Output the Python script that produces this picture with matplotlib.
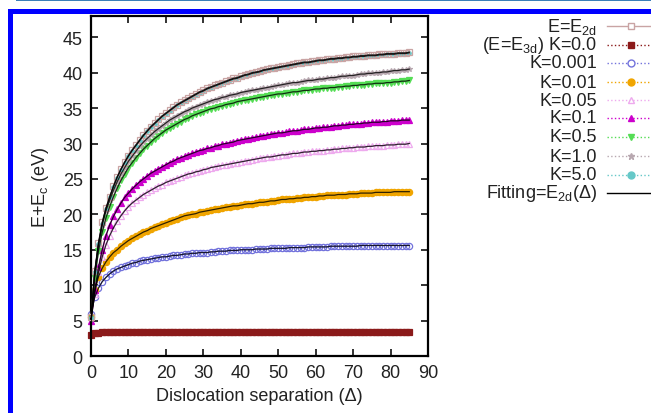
import numpy as np
import matplotlib
matplotlib.use("Agg")
import matplotlib.pyplot as plt
from matplotlib.lines import Line2D
from matplotlib.patches import Rectangle

plt.rcParams['font.family'] = ['Liberation Sans', 'DejaVu Sans']
plt.rcParams['mathtext.fontset'] = 'custom'
plt.rcParams['mathtext.rm'] = 'Liberation Sans'
plt.rcParams['mathtext.it'] = 'Liberation Sans:italic'

# dislocation separation (in units of Delta)
delta = np.arange(0, 86)

e_2d = [5.5, 12.0, 16.0, 18.9, 20.9, 22.5, 24.0, 25.3, 26.4, 27.4,
        28.3, 29.1, 29.8, 30.5, 31.2, 31.8, 32.4, 32.9, 33.4, 33.9,
        34.3, 34.7, 35.1, 35.5, 35.8, 36.1, 36.4, 36.7, 37.0, 37.3,
        37.5, 37.8, 38.0, 38.2, 38.4, 38.6, 38.8, 39.0, 39.2, 39.3,
        39.5, 39.7, 39.8, 40.0, 40.1, 40.2, 40.4, 40.5, 40.6, 40.7,
        40.8, 40.9, 41.0, 41.1, 41.2, 41.3, 41.4, 41.5, 41.5, 41.6,
        41.7, 41.8, 41.8, 41.9, 42.0, 42.0, 42.1, 42.1, 42.2, 42.2,
        42.3, 42.3, 42.4, 42.4, 42.5, 42.5, 42.5, 42.6, 42.6, 42.7,
        42.7, 42.7, 42.8, 42.8, 42.8, 42.9]

k_0 = [2.9, 3.2, 3.3, 3.4, 3.4, 3.4, 3.4, 3.4, 3.4, 3.4,
       3.4, 3.4, 3.4, 3.4, 3.4, 3.4, 3.4, 3.4, 3.4, 3.4,
       3.4, 3.4, 3.4, 3.4, 3.4, 3.4, 3.4, 3.4, 3.4, 3.4,
       3.4, 3.4, 3.4, 3.4, 3.4, 3.4, 3.4, 3.4, 3.4, 3.4,
       3.4, 3.4, 3.4, 3.4, 3.4, 3.4, 3.4, 3.4, 3.4, 3.4,
       3.4, 3.4, 3.4, 3.4, 3.4, 3.4, 3.4, 3.4, 3.4, 3.4,
       3.4, 3.4, 3.4, 3.4, 3.4, 3.4, 3.4, 3.4, 3.4, 3.4,
       3.4, 3.4, 3.4, 3.4, 3.4, 3.4, 3.4, 3.4, 3.4, 3.4,
       3.4, 3.4, 3.4, 3.4, 3.4, 3.4]

k_0001 = [6.0, 8.3, 9.6, 10.5, 11.1, 11.6, 12.0, 12.3, 12.5, 12.7,
          12.9, 13.1, 13.2, 13.4, 13.5, 13.6, 13.7, 13.8, 13.9, 14.0,
          14.0, 14.1, 14.2, 14.2, 14.3, 14.4, 14.4, 14.5, 14.5, 14.6,
          14.6, 14.6, 14.7, 14.7, 14.8, 14.8, 14.8, 14.9, 14.9, 14.9,
          15.0, 15.0, 15.0, 15.0, 15.1, 15.1, 15.1, 15.1, 15.2, 15.2,
          15.2, 15.2, 15.2, 15.3, 15.3, 15.3, 15.3, 15.3, 15.4, 15.4,
          15.4, 15.4, 15.4, 15.4, 15.5, 15.5, 15.5, 15.5, 15.5, 15.5,
          15.5, 15.5, 15.6, 15.6, 15.6, 15.6, 15.6, 15.6, 15.6, 15.6,
          15.6, 15.6, 15.6, 15.6, 15.6, 15.6]

k_001 = [5.5, 9.3, 11.2, 12.4, 13.3, 14.0, 14.6, 15.0, 15.5, 15.9,
         16.3, 16.6, 16.9, 17.2, 17.5, 17.7, 18.0, 18.2, 18.4, 18.6,
         18.8, 19.0, 19.2, 19.4, 19.6, 19.8, 19.9, 20.0, 20.1, 20.3,
         20.4, 20.5, 20.6, 20.7, 20.8, 20.9, 21.0, 21.1, 21.2, 21.2,
         21.3, 21.4, 21.5, 21.5, 21.6, 21.7, 21.7, 21.8, 21.9, 21.9,
         22.0, 22.1, 22.1, 22.2, 22.2, 22.3, 22.3, 22.4, 22.4, 22.5,
         22.5, 22.6, 22.6, 22.7, 22.7, 22.7, 22.8, 22.8, 22.8, 22.9,
         22.9, 22.9, 23.0, 23.0, 23.0, 23.0, 23.1, 23.1, 23.1, 23.1,
         23.1, 23.2, 23.2, 23.2, 23.2, 23.2]

k_005 = [5.0, 8.8, 11.8, 14.0, 15.7, 17.0, 18.1, 19.0, 19.8, 20.5,
         21.1, 21.6, 22.0, 22.4, 22.8, 23.1, 23.4, 23.7, 24.0, 24.2,
         24.5, 24.7, 24.9, 25.1, 25.3, 25.5, 25.7, 25.8, 26.0, 26.1,
         26.3, 26.4, 26.6, 26.7, 26.8, 26.9, 27.0, 27.1, 27.2, 27.3,
         27.4, 27.5, 27.6, 27.7, 27.8, 27.9, 28.0, 28.1, 28.1, 28.2,
         28.3, 28.4, 28.4, 28.5, 28.6, 28.6, 28.7, 28.8, 28.8, 28.9,
         28.9, 29.0, 29.0, 29.1, 29.1, 29.2, 29.2, 29.3, 29.3, 29.4,
         29.4, 29.5, 29.5, 29.5, 29.6, 29.6, 29.7, 29.7, 29.7, 29.8,
         29.8, 29.8, 29.9, 29.9, 29.9, 30.0]

k_01 = [5.0, 9.3, 12.5, 15.0, 17.0, 18.5, 19.7, 20.7, 21.6, 22.4,
        23.0, 23.6, 24.1, 24.6, 25.0, 25.4, 25.8, 26.1, 26.4, 26.7,
        27.0, 27.3, 27.5, 27.8, 28.0, 28.2, 28.4, 28.6, 28.8, 29.0,
        29.1, 29.3, 29.4, 29.6, 29.7, 29.9, 30.0, 30.1, 30.2, 30.4,
        30.5, 30.6, 30.7, 30.8, 30.9, 31.0, 31.1, 31.2, 31.3, 31.4,
        31.5, 31.5, 31.6, 31.7, 31.8, 31.8, 31.9, 32.0, 32.0, 32.1,
        32.2, 32.2, 32.3, 32.3, 32.4, 32.5, 32.5, 32.6, 32.6, 32.7,
        32.7, 32.8, 32.8, 32.9, 32.9, 33.0, 33.0, 33.0, 33.1, 33.1,
        33.2, 33.2, 33.2, 33.3, 33.3, 33.3]

k_05 = [5.2, 11.0, 14.8, 17.5, 19.5, 21.1, 22.5, 23.7, 24.8, 25.7,
        26.6, 27.3, 28.0, 28.6, 29.2, 29.7, 30.2, 30.7, 31.1, 31.5,
        31.9, 32.2, 32.5, 32.8, 33.1, 33.4, 33.6, 33.9, 34.1, 34.3,
        34.5, 34.7, 34.9, 35.0, 35.2, 35.3, 35.5, 35.6, 35.7, 35.9,
        36.0, 36.1, 36.2, 36.3, 36.4, 36.5, 36.6, 36.7, 36.8, 36.9,
        37.0, 37.0, 37.1, 37.2, 37.3, 37.3, 37.4, 37.5, 37.5, 37.6,
        37.7, 37.7, 37.8, 37.8, 37.9, 37.9, 38.0, 38.0, 38.1, 38.1,
        38.2, 38.2, 38.3, 38.3, 38.4, 38.4, 38.5, 38.5, 38.5, 38.6,
        38.6, 38.7, 38.7, 38.8, 38.8, 38.9]

k_1 = [5.3, 11.8, 15.7, 18.5, 20.5, 22.0, 23.4, 24.6, 25.7, 26.6,
       27.5, 28.2, 28.9, 29.6, 30.2, 30.7, 31.2, 31.7, 32.1, 32.5,
       32.9, 33.3, 33.6, 33.9, 34.2, 34.5, 34.7, 35.0, 35.2, 35.4,
       35.6, 35.8, 36.0, 36.2, 36.3, 36.5, 36.6, 36.8, 36.9, 37.0,
       37.2, 37.3, 37.4, 37.5, 37.6, 37.7, 37.8, 37.9, 38.0, 38.1,
       38.2, 38.3, 38.4, 38.5, 38.6, 38.6, 38.7, 38.8, 38.9, 38.9,
       39.0, 39.1, 39.1, 39.2, 39.3, 39.3, 39.4, 39.5, 39.5, 39.6,
       39.6, 39.7, 39.8, 39.8, 39.9, 39.9, 40.0, 40.0, 40.1, 40.1,
       40.2, 40.3, 40.3, 40.4, 40.4, 40.5]

k_5 = [5.4, 11.8, 15.8, 18.7, 20.8, 22.4, 23.9, 25.2, 26.3, 27.3,
       28.2, 29.0, 29.7, 30.4, 31.1, 31.7, 32.3, 32.8, 33.3, 33.8,
       34.2, 34.6, 35.0, 35.4, 35.7, 36.0, 36.3, 36.6, 36.9, 37.2,
       37.4, 37.7, 37.9, 38.1, 38.3, 38.5, 38.7, 38.9, 39.1, 39.2,
       39.4, 39.6, 39.7, 39.9, 40.0, 40.1, 40.3, 40.4, 40.5, 40.6,
       40.7, 40.8, 40.9, 41.0, 41.1, 41.2, 41.3, 41.4, 41.4, 41.5,
       41.6, 41.7, 41.7, 41.8, 41.9, 41.9, 42.0, 42.0, 42.1, 42.1,
       42.2, 42.2, 42.3, 42.3, 42.4, 42.4, 42.4, 42.5, 42.5, 42.6,
       42.6, 42.6, 42.7, 42.7, 42.7, 42.8]

labels = [r"E=E$_{\mathregular{2d}}$",
          r"(E=E$_{\mathregular{3d}}$) K=0.0",
          "K=0.001", "K=0.01", "K=0.05", "K=0.1",
          "K=0.5", "K=1.0", "K=5.0"]
series = [e_2d, k_0, k_0001, k_001, k_005, k_01, k_05, k_1, k_5]

# (color, marker, filled, legend linestyle, marker size, z-order)
styles = [("#c9a4a4", "s", False, "-", 4.5, 3),
          ("#8b1a1a", "s", True, ":", 5.0, 2),
          ("#7373dc", "o", False, ":", 4.5, 2),
          ("#f0a500", "o", True, ":", 4.5, 2),
          ("#eeaaee", "^", False, ":", 4.5, 2),
          ("#cc00cc", "^", True, ":", 4.0, 2),
          ("#55dd55", "v", True, ":", 4.0, 2),
          ("#b8a8b0", "*", True, ":", 4.0, 2),
          ("#66c8c8", "o", True, ":", 2.5, 2.5)]

W, H = 651, 414
fig = plt.figure(figsize=(W / 100, H / 100), dpi=100)
ax = fig.add_axes([91 / W, 1 - 357 / H, (428 - 91) / W, (357 - 17) / H])

for vals, (c, m, filled, ls, ms, z) in zip(series, styles):
    ax.plot(delta, vals, color=c, lw=0.8, marker=m, ms=ms,
            mfc=c if filled else "none", mec=c, mew=0.9, clip_on=False,
            zorder=z)

# fitted curves drawn over the data
for vals in series:
    if vals is k_0:
        continue
    ax.plot(delta, vals, color="black", lw=0.9, alpha=0.8, zorder=4)

ax.set_xlim(0, 90)
ax.set_ylim(0, 48)
ax.set_xticks(range(0, 91, 10))
ax.set_yticks(range(0, 46, 5))
ax.tick_params(direction="in", length=5, width=1.3, top=True, right=True,
               labelsize=13, colors="#222222", pad=6)
for s in ax.spines.values():
    s.set_linewidth(1.6)
ax.set_xlabel("Dislocation separation (Δ)", fontsize=13, color="#222222",
              labelpad=4)
ax.set_ylabel(r"E+E$_{\mathregular{c}}$ (eV)", fontsize=13, color="#222222",
              labelpad=8)

# key on the right side, gnuplot style
rows = [27, 46, 64, 83, 101, 119, 138, 157, 176, 194]
key_labels = labels + [r"Fitting=E$_{\mathregular{2d}}$(Δ)"]
key_styles = styles + [("black", None, True, "-", 0, 0)]
for py, lab, (c, m, filled, ls, ms, z) in zip(rows, key_labels, key_styles):
    fy = 1 - py / H
    fig.text(597 / W, fy, lab, ha="right", va="center", fontsize=13,
             color="#222222")
    fig.add_artist(Line2D([607 / W, 1.0], [fy, fy], transform=fig.transFigure,
                          color=c, lw=1.0, ls=ls))
    if m is not None:
        fig.add_artist(Line2D([631 / W], [fy], transform=fig.transFigure,
                              color=c, marker=m, ms=5,
                              mfc=c if filled else "white", mec=c, mew=1.0))

# page frame
fig.add_artist(Rectangle((16 / W, 1 - 2 / H), 1 - 16 / W, 2 / H,
                         transform=fig.transFigure, color="#3c7fb8", lw=0))
fig.add_artist(Rectangle((8 / W, 1 - 15 / H), 1 - 8 / W, 5 / H,
                         transform=fig.transFigure, color="#0000ff", lw=0))
fig.add_artist(Rectangle((8 / W, 0), 5 / W, 1 - 10 / H,
                         transform=fig.transFigure, color="#0000ff", lw=0))

fig.savefig("out.png", dpi=100)
